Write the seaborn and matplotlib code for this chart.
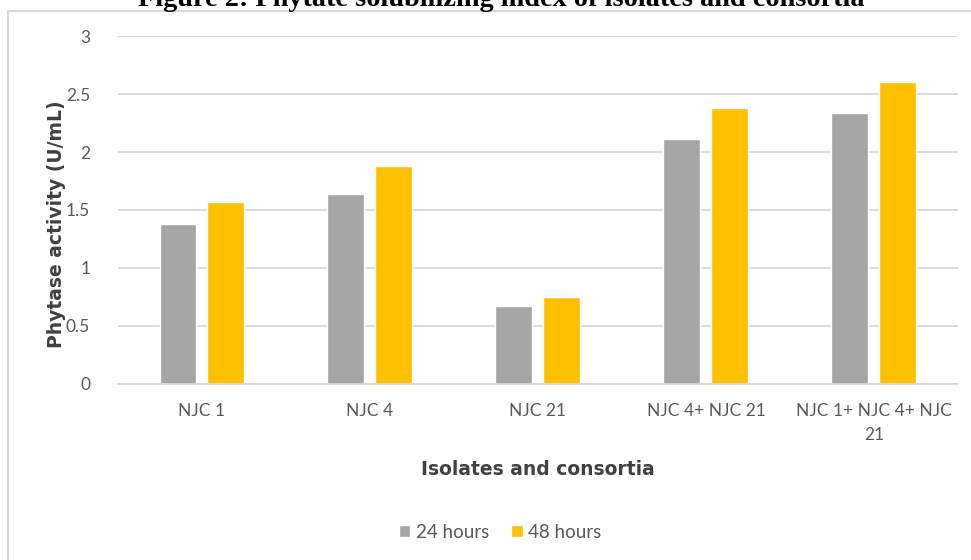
import numpy as np
import pandas as pd
import matplotlib
matplotlib.use('Agg')
import matplotlib.pyplot as plt
import seaborn as sns
from matplotlib.patches import Rectangle

# values
isolates = ['NJC 1', 'NJC 4', 'NJC 21', 'NJC 4+ NJC 21', 'NJC 1+ NJC 4+ NJC\n21']
hours_24 = [1.38, 1.64, 0.67, 2.11, 2.34]
hours_48 = [1.57, 1.88, 0.75, 2.38, 2.60]
series = ['24 hours', '48 hours']
colors = ['#A5A5A5', '#FFC000']
y_ticks = [0, 0.5, 1, 1.5, 2, 2.5, 3]
y_tick_labels = ['0', '0.5', '1', '1.5', '2', '2.5', '3']

df = pd.DataFrame({
    'isolate': isolates * 2,
    'activity': hours_24 + hours_48,
    'time': [series[0]] * len(isolates) + [series[1]] * len(isolates),
})

sns.set_style('white')
plt.rcParams['font.family'] = ['Lato', 'DejaVu Sans']

fig = plt.figure(figsize=(9.71, 5.6), dpi=100)
ax = fig.add_axes([0.1215, 0.3143, 0.865, 0.6214])

sns.barplot(data=df, x='isolate', y='activity', hue='time', palette=colors,
            width=0.571, gap=0.229, saturation=1, ax=ax)

ax.set_ylim(0, 3)
ax.set_xlim(-0.5, len(isolates) - 0.5)
ax.set_yticks(y_ticks)
ax.set_yticklabels(y_tick_labels)
ax.yaxis.grid(True, color='#d9d9d9', linewidth=1.3)
ax.set_axisbelow(True)
for side in ['top', 'right', 'left']:
    ax.spines[side].set_visible(False)
ax.spines['bottom'].set_color('#d9d9d9')
ax.spines['bottom'].set_linewidth(1.3)
ax.tick_params(axis='both', length=0, labelsize=12.5, labelcolor='#595959')
ax.tick_params(axis='y', pad=20)
ax.tick_params(axis='x', pad=14)
for lbl in ax.get_xticklabels():
    lbl.set_linespacing(1.6)

ax.set_ylabel('Phytase activity (U/mL)', fontsize=13.5, fontweight='bold',
              color='#404040', family='DejaVu Sans')
ax.yaxis.set_label_coords(-0.062, 0.46)
ax.set_xlabel('Isolates and consortia', fontsize=13.5, fontweight='bold',
              color='#404040', family='DejaVu Sans')
ax.xaxis.set_label_coords(0.5, -0.247)
ax.xaxis.label.set_va('center')

sns.move_legend(ax, 'center', bbox_to_anchor=(0.515, 0.05),
                bbox_transform=fig.transFigure, ncol=2, frameon=False,
                title=None, fontsize=13.5, handlelength=0.6, handleheight=0.6,
                handletextpad=0.3, columnspacing=1.2)
for t in ax.get_legend().get_texts():
    t.set_color('#595959')

# chart frame and clipped title above it
fig.patches.append(Rectangle((8 / 971, -0.1), 1.2, 1 - 11 / 560 + 0.1,
                             transform=fig.transFigure, fill=False,
                             edgecolor='#d9d9d9', linewidth=1.5))
fig.text(0.516, 1 - 6 / 560, 'Figure 2: Phytate solubilizing index of isolates and consortia',
         ha='center', va='baseline', fontsize=20.3, fontweight='bold',
         family='Liberation Serif', color='black')

fig.savefig('out.png', dpi=100, facecolor='white')
